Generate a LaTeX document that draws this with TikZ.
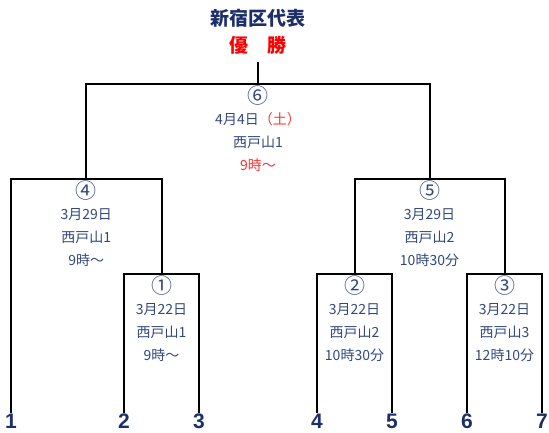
\documentclass[tikz,border=0pt]{standalone}
\usepackage{fontspec}
\setmainfont{Noto Sans CJK JP}
\newfontfamily\numfont{Liberation Sans}
\usepackage{tikz}
\usetikzlibrary{positioning}
\definecolor{navy}{HTML}{1C2F6B}
\definecolor{slate}{HTML}{33487E}
\definecolor{winred}{HTML}{FF0000}
\definecolor{timered}{HTML}{FF3030}
\newcommand{\mno}[1]{\smash{\raisebox{-2pt}{\fontsize{21}{23}\selectfont #1}}}
\tikzstyle{team} = [font=\numfont\bfseries\fontsize{21}{21}\selectfont, text=navy, inner sep=0pt, outer sep=1pt, anchor=north]
\tikzstyle{info} = [font=\fontsize{14}{23}\selectfont, text=slate, align=center, inner sep=0pt, anchor=north]
\tikzstyle{bracket} = [line width=2pt, draw=black]
\tikzstyle{head} = [font=\bfseries\fontsize{19}{19}\selectfont, inner sep=0pt]

\begin{document}
\begin{tikzpicture}[x=1pt,y=-1pt]
  \useasboundingbox (0,0) rectangle (549,432);
  % title
  \node (title) [head, text=navy] at (258,18) {新宿区代表};
  \node (champ) [head, text=winred] at (258,45) {優　勝};
  \coordinate (stem) at (258,62);
  % teams
  \node (t1) [team] at (11,413) {1};
  \node (t2) [team] at (124,413) {2};
  \node (t3) [team] at (199,413) {3};
  \node (t4) [team] at (317,413) {4};
  \node (t5) [team] at (392,413) {5};
  \node (t6) [team] at (467,413) {6};
  \node (t7) [team] at (542,413) {7};
  % bracket tops
  \coordinate (m1) at (161.5,274);
  \coordinate (m2) at (354.5,274);
  \coordinate (m3) at (504.5,274);
  \coordinate (m4) at (86.25,179);
  \coordinate (m5) at (429.5,179);
  \coordinate (m6) at (258,84);
  \draw[bracket] (t2.north) |- (m1) -| (t3.north);
  \draw[bracket] (t4.north) |- (m2) -| (t5.north);
  \draw[bracket] (t6.north) |- (m3) -| (t7.north);
  \draw[bracket] (t1.north) |- (m4) -| (m1);
  \draw[bracket] (m2) |- (m5) -| (m3);
  \draw[bracket] (m4) |- (m6) -| (m5);
  \draw[bracket] (m6) -- (stem);
  % match info
  \node (i1) [info, below=17pt of m1] {\mno{①}\\3月22日\\西戸山1\\9時～};
  \node (i2) [info, below=17pt of m2] {\mno{②}\\3月22日\\西戸山2\\10時30分};
  \node (i3) [info, below=17pt of m3] {\mno{③}\\3月22日\\西戸山3\\12時10分};
  \node (i4) [info, below=17pt of m4] {\mno{④}\\3月29日\\西戸山1\\9時～};
  \node (i5) [info, below=17pt of m5] {\mno{⑤}\\3月29日\\西戸山2\\10時30分};
  \node (i6) [info, below=17pt of m6] {\mno{⑥}\\4月4日\textcolor{timered}{（土）}\\西戸山1\\\textcolor{timered}{9時～}};
\end{tikzpicture}
\end{document}
